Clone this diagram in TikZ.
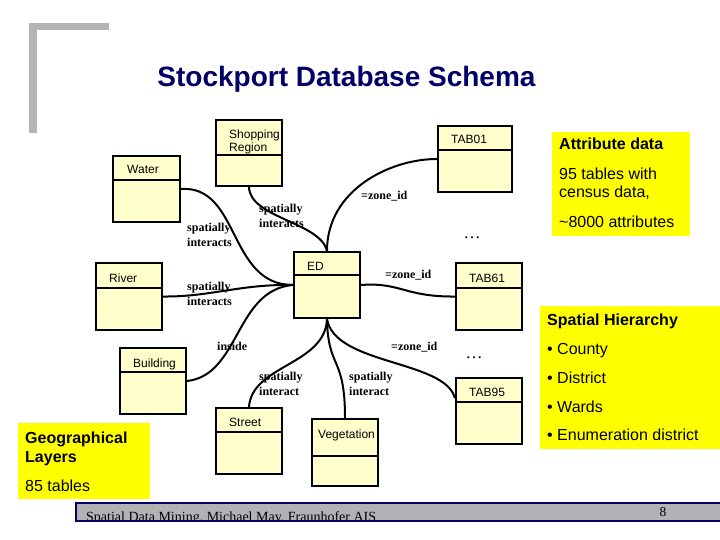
\documentclass[tikz,border=0pt]{standalone}
\usepackage{fontspec}
\setmainfont{Liberation Sans}
\newfontfamily\tnr{Liberation Serif}
\usetikzlibrary{fit}
\definecolor{boxfill}{HTML}{FFFFCC}
\definecolor{hl}{HTML}{FFFF00}
\definecolor{navy}{HTML}{000066}
\definecolor{bargray}{HTML}{B2B2B2}
\definecolor{cornergray}{HTML}{B4B4B4}
\tikzset{
  umlbox/.style={draw=black, line width=2.3pt, fill=boxfill, inner sep=0pt},
  divider/.style={draw=black, line width=2.3pt},
  clslbl/.style={anchor=base west, inner sep=0pt, font=\fontsize{12}{13.5}\selectfont, align=left},
  conn/.style={draw=black, line width=2pt},
  rellbl/.style={anchor=base west, inner sep=0pt, font=\tnr\bfseries\fontsize{12}{14.8}\selectfont, align=left},
  hlbox/.style={fill=hl, draw=none, inner sep=0pt},
  hltext/.style={anchor=base west, inner sep=0pt, font=\fontsize{16}{18}\selectfont},
  hlhead/.style={anchor=base west, inner sep=0pt, font=\bfseries\fontsize{16}{19}\selectfont, align=left},
  dotslbl/.style={inner sep=0pt, font=\tnr\fontsize{17}{17}\selectfont}
}
\newcommand\umlcls[6]{%
  \node[umlbox, fit={(#2,#3) (#4,#5)}] (#1) {};
  \draw[divider] (#2,#6) -- (#4,#6);
}
\begin{document}
\begin{tikzpicture}[x=1pt,y=-1pt]
\useasboundingbox (0,0) rectangle (720,540);
% corner bracket
\fill[cornergray] (29,23) rectangle (109,30);
\fill[cornergray] (29,23) rectangle (37,133);
% title
\node[anchor=base, inner sep=0pt, text=navy, font=\bfseries\fontsize{28}{30}\selectfont] (title) at (346.5,87) {Stockport Database Schema};

% yellow info boxes
\node[hlbox, fit={(552,132) (690,236)}] (attr) {};
\node[hlhead] (attr-h) at (559,150) {Attribute data};
\node[hltext] (attr-a) at (559,180) {95 tables with};
\node[hltext] (attr-b) at (559,198) {census data,};
\node[hltext] (attr-c) at (559,228) {\textasciitilde8000 attributes};

\node[hlbox, fit={(540,306) (720,449)}] (hier) {};
\node[hlhead] (hier-h) at (547,325) {Spatial Hierarchy};
\node[hltext] (hier-a) at (547,354) {• County};
\node[hltext] (hier-b) at (547,383) {• District};
\node[hltext] (hier-c) at (547,412) {• Wards};
\node[hltext] (hier-d) at (547,440) {• Enumeration district};

\node[hlbox, fit={(18,423) (150,499)}] (geo) {};
\node[hlhead] (geo-h) at (25,462) {Geographical\\Layers};
\node[hltext] (geo-a) at (25,491) {85 tables};

% classes
\umlcls{shop}{216}{120}{282}{186}{155}
\umlcls{water}{113}{156}{180}{222}{180}
\umlcls{tabA}{438}{126}{512}{192}{150}
\umlcls{ed}{294}{252}{360}{318}{275}
\umlcls{river}{96}{263}{162}{330}{288}
\umlcls{tabB}{456}{263}{522}{330}{288}
\umlcls{building}{120}{348}{186}{414}{372}
\umlcls{tabC}{456}{378}{522}{444}{402}
\umlcls{street}{216}{408}{282}{474}{432}
\umlcls{veg}{312}{419}{378}{486}{456}

\node[clslbl] (shop-l) at (229,152) {Shopping\\Region};
\node[clslbl] (water-l) at (127,174) {Water};
\node[clslbl] (tabA-l) at (451,144) {TAB01};
\node[clslbl] (ed-l) at (307,270) {ED};
\node[clslbl] (river-l) at (109,282) {River};
\node[clslbl] (tabB-l) at (469,282) {TAB61};
\node[clslbl] (building-l) at (133,367) {Building};
\node[clslbl] (tabC-l) at (469,396) {TAB95};
\node[clslbl] (street-l) at (229,426) {Street};
\node[clslbl] (veg-l) at (318,438) {Vegetation};

% connectors by name
\draw[conn] (shop.south) .. controls (250,218) and (320,222) .. (ed.north);
\draw[conn] (tabA.west) .. controls (390,159) and (327,190) .. (ed.north);
\draw[conn] (water.east) .. controls (240,185) and (228,285) .. (ed.west);
\draw[conn] (river.east) .. controls (210,297) and (240,284) .. (ed.west);
\draw[conn] (building.east) .. controls (240,375) and (235,290) .. (ed.west);
\draw[conn] (ed.east) .. controls (400,282) and (405,297) .. (tabB.west);
\draw[conn] (street.north) .. controls (252,365) and (325,365) .. (ed.south);
\draw[conn] (veg.north) .. controls (345,355) and (328,370) .. (ed.south);
\draw[conn] (ed.south) .. controls (335,365) and (445,360) .. ([yshift=13pt]tabC.west);

% relation labels
\node[rellbl] (r-water) at (187,246) {spatially\\interacts};
\node[rellbl] (r-shop) at (259,227) {spatially\\interacts};
\node[rellbl] (r-river) at (187,305) {spatially\\interacts};
\node[rellbl] (r-zone1) at (361,200) {=zone\_id};
\node[rellbl] (r-zone2) at (385,278) {=zone\_id};
\node[rellbl] (r-inside) at (217,350) {inside};
\node[rellbl] (r-zone3) at (391,350) {=zone\_id};
\node[rellbl] (r-street) at (259,395) {spatially\\interact};
\node[rellbl] (r-veg) at (349,395) {spatially\\interact};

\node[dotslbl] (dots1) at (472,238) {\dots};
\node[dotslbl] (dots2) at (474,358) {\dots};

% footer
\node[fill=bargray, draw=navy, line width=2pt, inner sep=0pt, fit={(76,503) (724,521)}] (footer) {};
\begin{scope}
\clip (76,503) rectangle (724,521);
\node[anchor=base west, inner sep=0pt, font=\tnr\fontsize{14}{14}\selectfont] (foot-t) at (86,521) {Spatial Data Mining, Michael May, Fraunhofer AIS};
\end{scope}
\draw[navy, line width=2pt] (76,503) -- (724,503) (76,521) -- (724,521) (76,503) -- (76,521);
\node[anchor=base, inner sep=0pt, font=\tnr\fontsize{13.5}{14}\selectfont] (pageno) at (663,516) {8};
\end{tikzpicture}
\end{document}
